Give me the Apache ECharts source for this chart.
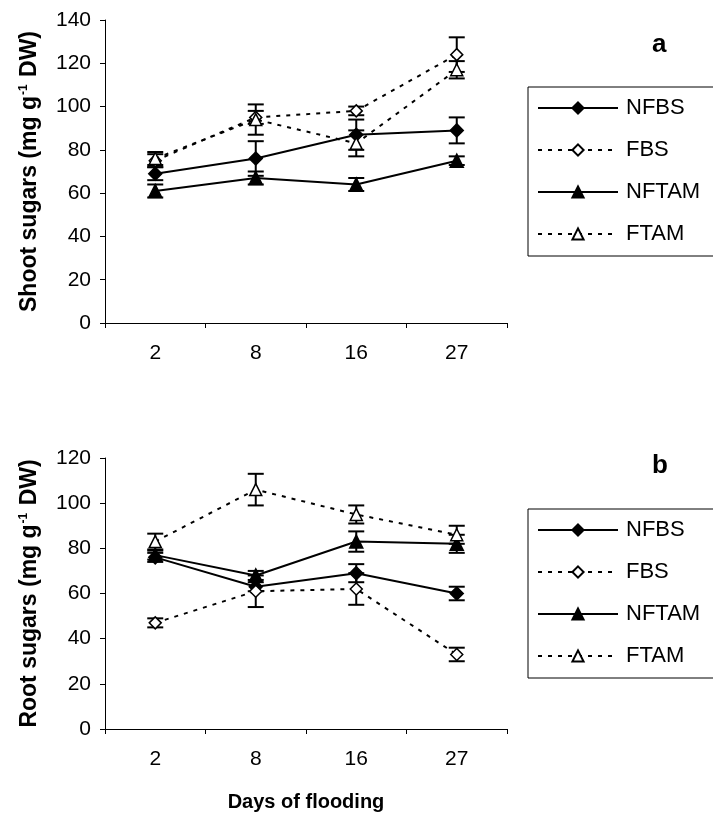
<!DOCTYPE html>
<html>
<head>
<meta charset="utf-8">
<script src="https://cdn.jsdelivr.net/npm/echarts@6/dist/echarts.min.js"></script>
<style>
html,body{margin:0;padding:0;background:#fff;}
#chart{width:713px;height:818px;}
</style>
</head>
<body>
<div id="chart"></div>
<script>
// ---- Data ----
const days = ['2', '8', '16', '27'];
const seriesNames = ['NFBS', 'FBS', 'NFTAM', 'FTAM'];

// Panel a: shoot sugars
const shootNFBS = [69, 76, 87, 89];
const shootNFBSErr = [3, 8, 7, 6];
const shootFBS = [75, 95, 98, 124];
const shootFBSErr = [3, 3, 2, 8];
const shootNFTAM = [61, 67, 64, 75];
const shootNFTAMErr = [3, 3, 3, 2];
const shootFTAM = [76, 94, 83, 117];
const shootFTAMErr = [3, 7, 6, 4];

// Panel b: root sugars
const rootNFBS = [76, 63, 69, 60];
const rootNFBSErr = [2, 2, 4, 3];
const rootFBS = [47, 61, 62, 33];
const rootFBSErr = [2, 7, 7, 3];
const rootNFTAM = [77, 68, 83, 82];
const rootNFTAMErr = [2, 2, 4.5, 4];
const rootFTAM = [83, 106, 95, 86];
const rootFTAMErr = [3.5, 7, 4, 4];

const shootTicks = {min: 0, max: 140, interval: 20};
const rootTicks = {min: 0, max: 120, interval: 20};

// ---- Styles ----
const FONT = 'Liberation Sans';
const styles = {
  NFBS:  {symbol: 'diamond',  size: 13, fill: '#000', dash: 'solid'},
  FBS:   {symbol: 'diamond',  size: 12, fill: '#fff', dash: [4, 6]},
  NFTAM: {symbol: 'triangle', size: 13, fill: '#000', dash: 'solid'},
  FTAM:  {symbol: 'triangle', size: 12, fill: '#fff', dash: [4, 6]}
};

function errData(vals, errs) {
  return vals.map((v, i) => [i, v - errs[i], v + errs[i]]);
}

function renderErr(params, api) {
  const x = api.value(0);
  const lo = api.coord([x, api.value(1)]);
  const hi = api.coord([x, api.value(2)]);
  const w = 8;
  const st = {stroke: '#000', lineWidth: 2};
  return {
    type: 'group',
    children: [
      {type: 'line', shape: {x1: lo[0], y1: lo[1], x2: hi[0], y2: hi[1]}, style: st},
      {type: 'line', shape: {x1: lo[0] - w, y1: lo[1], x2: lo[0] + w, y2: lo[1]}, style: st},
      {type: 'line', shape: {x1: hi[0] - w, y1: hi[1], x2: hi[0] + w, y2: hi[1]}, style: st}
    ]
  };
}

function lineSeries(name, vals, gi) {
  const s = styles[name];
  return {
    type: 'line', name: name, data: vals,
    xAxisIndex: gi, yAxisIndex: gi,
    symbol: s.symbol, symbolSize: s.size,
    lineStyle: {color: '#000', width: 2, type: s.dash},
    itemStyle: {color: s.fill, borderColor: '#000', borderWidth: 1.5},
    z: 3, animation: false
  };
}

function errSeries(name, vals, errs, gi) {
  return {
    type: 'custom', name: 'err-' + name + gi,
    xAxisIndex: gi, yAxisIndex: gi,
    data: errData(vals, errs),
    encode: {x: 0, y: [1, 2]},
    renderItem: renderErr, z: 2, silent: true, animation: false
  };
}

const panels = [
  {NFBS: [shootNFBS, shootNFBSErr], FBS: [shootFBS, shootFBSErr], NFTAM: [shootNFTAM, shootNFTAMErr], FTAM: [shootFTAM, shootFTAMErr]},
  {NFBS: [rootNFBS, rootNFBSErr], FBS: [rootFBS, rootFBSErr], NFTAM: [rootNFTAM, rootNFTAMErr], FTAM: [rootFTAM, rootFTAMErr]}
];

const series = [];
panels.forEach((p, gi) => {
  seriesNames.forEach(n => series.push(errSeries(n, p[n][0], p[n][1], gi)));
  seriesNames.forEach(n => series.push(lineSeries(n, p[n][0], gi)));
});

const axisCommon = {
  axisLine: {show: true, lineStyle: {color: '#000', width: 1}},
  axisTick: {show: true, length: 5, lineStyle: {color: '#000'}},
  splitLine: {show: false}
};

function xAxis(gi, extra) {
  return Object.assign({
    type: 'category', gridIndex: gi, data: days, boundaryGap: true,
    axisLabel: {color: '#000', fontSize: 21, fontFamily: FONT, margin: 20},
  }, axisCommon, extra || {});
}

function yAxis(gi, ticks, title) {
  return Object.assign({
    type: 'value', gridIndex: gi,
    min: ticks.min, max: ticks.max, interval: ticks.interval,
    axisLabel: {color: '#000', fontSize: 21, fontFamily: FONT, margin: 14},
    name: '{t|' + title + ' (mg g}{s|-1}{t| DW)}',
    nameLocation: 'middle', nameRotate: 90, nameGap: 64,
    nameTextStyle: {
      rich: {
        t: {fontSize: 23, fontWeight: 'bold', fontFamily: FONT, color: '#000'},
        s: {fontSize: 12, fontWeight: 'bold', fontFamily: FONT, color: '#000', verticalAlign: 'top', padding: [0, 1, 0, 1]}
      }
    }
  }, axisCommon);
}

function legend(top) {
  return {
    data: seriesNames,
    orient: 'vertical', left: 528, top: top,
    itemWidth: 80, itemHeight: 14, itemGap: 20,
    padding: [10, 30, 11, 9],
    borderColor: '#000', borderWidth: 1,
    selectedMode: false,
    textStyle: {fontSize: 22, color: '#000', fontFamily: FONT, padding: [0, 0, 0, 3]}
  };
}

const chart = echarts.init(document.getElementById('chart'), null, {renderer: 'canvas'});
chart.setOption({
  animation: false,
  backgroundColor: '#fff',
  textStyle: {fontFamily: FONT},
  grid: [
    {left: 105, top: 20, width: 402, height: 303},
    {left: 105, top: 458, width: 402, height: 271}
  ],
  xAxis: [
    xAxis(0),
    xAxis(1, {name: 'Days of flooding', nameLocation: 'middle', nameGap: 63,
      nameTextStyle: {fontSize: 20, fontWeight: 'bold', color: '#000', fontFamily: FONT}})
  ],
  yAxis: [
    yAxis(0, shootTicks, 'Shoot sugars'),
    yAxis(1, rootTicks, 'Root sugars')
  ],
  legend: [legend(87), legend(509)],
  graphic: [
    {type: 'text', left: 652, top: 32, style: {text: 'a', font: 'bold 26px "Liberation Sans"', fill: '#000'}},
    {type: 'text', left: 652, top: 453, style: {text: 'b', font: 'bold 26px "Liberation Sans"', fill: '#000'}}
  ],
  series: series
});
</script>
</body>
</html>
